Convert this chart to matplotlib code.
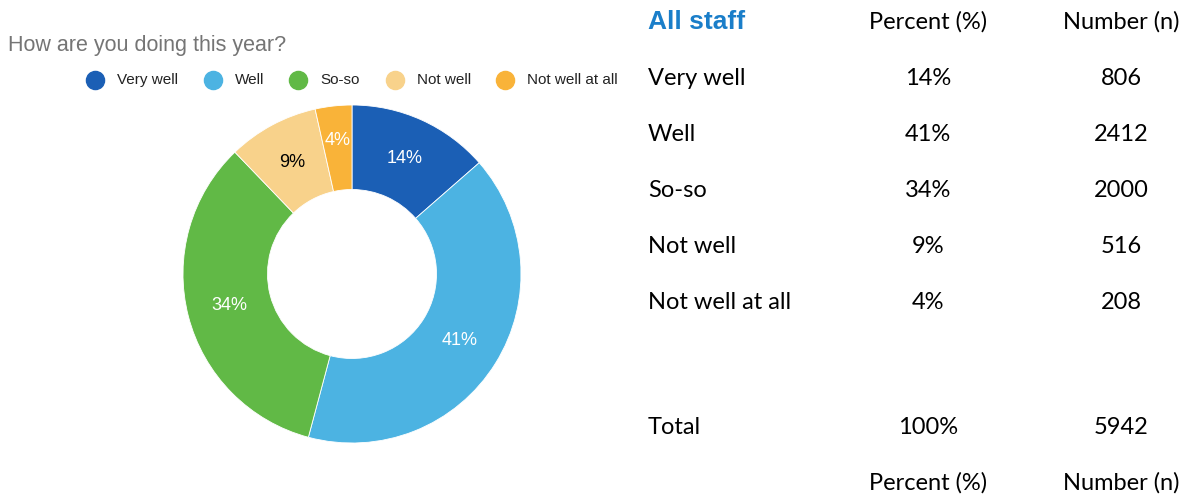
import numpy as np
import matplotlib.pyplot as plt

# data
categories = ['Very well', 'Well', 'So-so', 'Not well', 'Not well at all']
counts = [806, 2412, 2000, 516, 208]
percents = [14, 41, 34, 9, 4]
total_pct = 100
total_n = 5942
colors = ['#1b5fb5', '#4cb3e2', '#61b946', '#f8d28b', '#f9b339']
label_colors = ['white', 'white', 'white', 'black', 'white']

W, H = 1190, 498
fig = plt.figure(figsize=(W / 100, H / 100), dpi=100)
ax = fig.add_axes([0, 0, 1, 1])

# donut in pixel-like data units; y axis is flipped below, so the angles are mirrored
cx, cy, r_out = 352, 274, 169
ax.pie(counts, colors=colors, startangle=-90, counterclock=True,
       center=(cx, cy), radius=r_out, frame=True,
       wedgeprops=dict(width=r_out * 0.5, linewidth=0.6, edgecolor='white'))
ax.set_xlim(0, W)
ax.set_ylim(H, 0)
ax.set_aspect('auto')
ax.axis('off')

cum = np.cumsum([0] + counts)
tot = cum[-1]
r_lab = r_out * 0.75
for i, p in enumerate(percents):
    mid = (cum[i] + cum[i + 1]) / 2 / tot * 2 * np.pi
    lx = cx + r_lab * np.sin(mid)
    ly = cy - r_lab * np.cos(mid)
    if percents[i] < 5:
        ly -= 8
    ax.text(lx, ly, f'{p}%', ha='center', va='center', fontsize=13,
            color=label_colors[i], family='Liberation Sans')

# title and legend
ax.text(8, 45, 'How are you doing this year?', ha='left', va='center',
        fontsize=15.5, color='#757575', family='Liberation Sans')
leg_x = [95, 213, 298, 395, 505]
for x, c, lab in zip(leg_x, colors, categories):
    ax.scatter([x], [80], s=170, color=c, zorder=3)
    ax.text(x + 22, 80, lab, ha='left', va='center', fontsize=11,
            color='#222222', family='Liberation Sans')

# table on the right
tfont = 'Lato'
tsize = 17
col_lab, col_pct, col_n = 648, 928, 1121
ax.text(col_lab, 22, 'All staff', ha='left', va='center', fontsize=19,
        fontweight='bold', color='#1a7ec9', family='Liberation Sans')
ax.text(col_pct, 22, 'Percent (%)', ha='center', va='center', fontsize=tsize, family=tfont)
ax.text(col_n, 22, 'Number (n)', ha='center', va='center', fontsize=tsize, family=tfont)
row_y = [78, 134, 190, 246, 302]
for y, lab, p, n in zip(row_y, categories, percents, counts):
    ax.text(col_lab, y, lab, ha='left', va='center', fontsize=tsize, family=tfont)
    ax.text(col_pct, y, f'{p}%', ha='center', va='center', fontsize=tsize, family=tfont)
    ax.text(col_n, y, f'{n}', ha='center', va='center', fontsize=tsize, family=tfont)
ax.text(col_lab, 427, 'Total', ha='left', va='center', fontsize=tsize, family=tfont)
ax.text(col_pct, 427, f'{total_pct}%', ha='center', va='center', fontsize=tsize, family=tfont)
ax.text(col_n, 427, f'{total_n}', ha='center', va='center', fontsize=tsize, family=tfont)
ax.text(col_pct, 483, 'Percent (%)', ha='center', va='center', fontsize=tsize, family=tfont)
ax.text(col_n, 483, 'Number (n)', ha='center', va='center', fontsize=tsize, family=tfont)

fig.savefig('out.png', dpi=100)
